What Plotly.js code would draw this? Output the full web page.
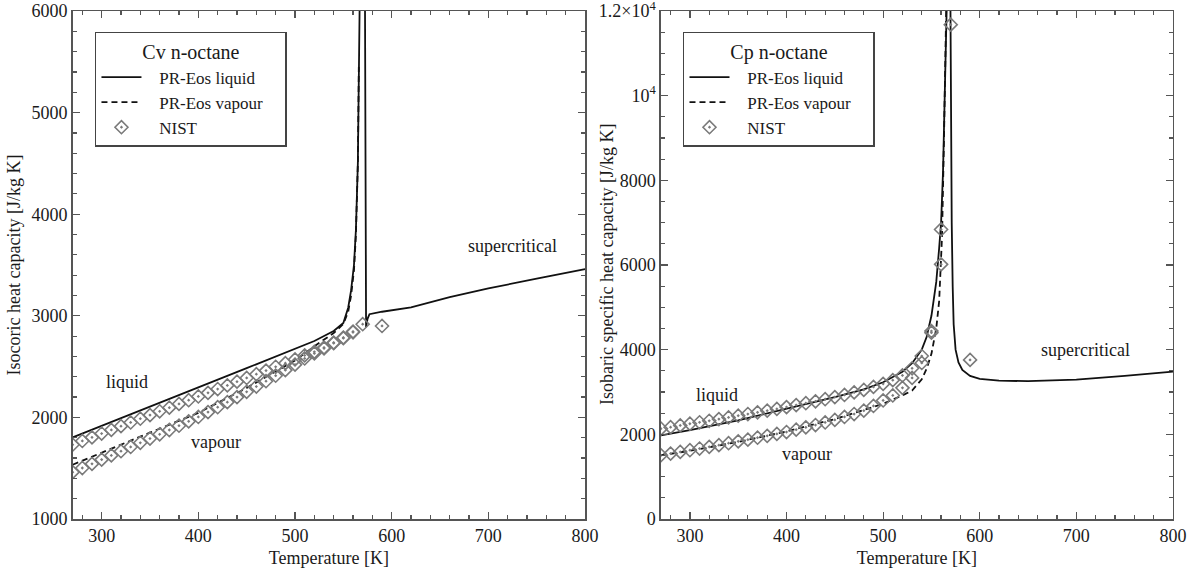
<!DOCTYPE html>
<html>
<head>
<meta charset="utf-8">
<script src="https://cdn.plot.ly/plotly-3.0.1.min.js"></script>
<style>html,body{margin:0;padding:0;background:#fff;}#chart{width:1193px;height:578px;}</style>
</head>
<body>
<div id="chart"></div>
<script>
// ---------- Left panel: Cv ----------
const T_cv_liq = [270,300,350,400,450,500,520,540,550,555,558,561,563,565,566,567,567.5];
const cv_liq   = [1803,1915,2105,2295,2485,2675,2752,2850,2930,3080,3250,3500,3850,4500,5100,6000,6600];

const T_cv_vap = [270,300,350,400,450,500,520,540,550,555,558,561,563,565,566];
const cv_vap   = [1534,1655,1850,2045,2290,2560,2700,2830,2920,3040,3200,3450,3800,4500,5450];

const T_cv_sc = [572.2,572.6,573,573.5,575,577,590,620,660,700,750,800];
const cv_sc   = [6600,4500,3300,2890,2970,3016,3040,3082,3184,3270,3365,3460];

const T_nist_cv_liq = [270,280,290,300,310,320,330,340,350,360,370,380,390,400,410,420,430,440,450,460,470,480,490,500,510,520,530,540,550,560,570,590];
const nist_cv_liq   = [1731,1768,1804,1841,1877,1914,1950,1987,2023,2060,2096,2133,2169,2206,2242,2279,2315,2352,2388,2425,2461,2498,2534,2571,2610,2645,2687,2736,2786,2845,2917,2900];

const T_nist_cv_vap = [270,280,290,300,310,320,330,340,350,360,370,380,390,400,410,420,430,440,450,460,470,480,490,500,510,520,530,540,550,560];
const nist_cv_vap   = [1461,1502,1543,1585,1626,1667,1709,1750,1792,1834,1876,1918,1961,2004,2052,2100,2150,2200,2252,2304,2356,2410,2465,2520,2580,2630,2680,2730,2780,2838];

// ---------- Right panel: Cp ----------
const T_cp_liq = [270,300,350,400,450,480,500,520,530,540,545,550,555,558,560,562,564,565.5,566.5];
const cp_liq   = [1976,2100,2330,2600,2880,3060,3230,3480,3680,4000,4300,4800,5600,6400,7000,8200,10000,11800,12800];

const T_cp_vap = [270,300,350,400,450,500,520,530,540,545,550,555,558,561,563,565,566];
const cp_vap   = [1506,1610,1820,2070,2360,2722,2920,3035,3300,3550,3900,4500,5150,6700,9000,11800,13000];

const T_cp_sc = [569.5,570,571,572,573,575,578,582,590,600,620,650,700,750,800];
const cp_sc   = [12800,10000,7000,5500,4600,4000,3700,3520,3380,3310,3270,3255,3290,3380,3480];

const T_nist_cp_liq = [270,280,290,300,310,320,330,340,350,360,370,380,390,400,410,420,430,440,450,460,470,480,490,500,510,520,530,540,550,560,570,590];
const nist_cp_liq   = [2134,2170,2210,2250,2285,2320,2360,2400,2440,2480,2520,2560,2600,2643,2690,2735,2780,2830,2880,2930,2990,3050,3120,3193,3280,3390,3560,3850,4440,6839,11678,3758];

const T_nist_cp_vap = [270,280,290,300,310,320,330,340,350,360,370,380,390,400,410,420,430,440,450,460,470,480,490,500,510,520,530,540,550,560];
const nist_cp_vap   = [1506,1545,1585,1625,1665,1705,1745,1790,1835,1875,1920,1965,2010,2055,2110,2165,2220,2280,2340,2410,2480,2560,2670,2800,2918,3098,3333,3686,4400,6016];

// tick label aliases for the right y axis
const cpTickAlias = {'10000':'10<sup>4</sup>', '12000':'1.2×10<sup>4</sup>'};

const FONT = 'Liberation Serif, Times New Roman, serif';
const TXT = '#1a1a1a';
const AX = '#555';

const solid = {color:'#111', width:1.8};
const dashed = {color:'#111', width:1.8, dash:'6px,4px'};
const nistMarker = {symbol:'diamond-open-dot', size:10, color:'#7a7a7a', line:{width:1.6, color:'#7a7a7a'}};
const PRE = '\u00a0\u00a0\u00a0';
const POST = '\u00a0\u00a0\u00a0\u00a0';

const traces = [
  {x:T_cv_liq, y:cv_liq, xaxis:'x', yaxis:'y', mode:'lines', line:solid, name:PRE+'PR-Eos liquid', legend:'legend'},
  {x:T_cv_vap, y:cv_vap, xaxis:'x', yaxis:'y', mode:'lines', line:dashed, name:PRE+'PR-Eos vapour'+POST, legend:'legend'},
  {x:T_cv_sc, y:cv_sc, xaxis:'x', yaxis:'y', mode:'lines', line:solid, showlegend:false, legend:'legend'},
  {x:T_nist_cv_liq, y:nist_cv_liq, xaxis:'x', yaxis:'y', mode:'markers', marker:nistMarker, name:PRE+'NIST', legend:'legend'},
  {x:T_nist_cv_vap, y:nist_cv_vap, xaxis:'x', yaxis:'y', mode:'markers', marker:nistMarker, showlegend:false, legend:'legend'},

  {x:T_cp_liq, y:cp_liq, xaxis:'x2', yaxis:'y2', mode:'lines', line:solid, name:PRE+'PR-Eos liquid', legend:'legend2'},
  {x:T_cp_vap, y:cp_vap, xaxis:'x2', yaxis:'y2', mode:'lines', line:dashed, name:PRE+'PR-Eos vapour'+POST, legend:'legend2'},
  {x:T_cp_sc, y:cp_sc, xaxis:'x2', yaxis:'y2', mode:'lines', line:solid, showlegend:false, legend:'legend2'},
  {x:T_nist_cp_liq, y:nist_cp_liq, xaxis:'x2', yaxis:'y2', mode:'markers', marker:nistMarker, name:PRE+'NIST', legend:'legend2'},
  {x:T_nist_cp_vap, y:nist_cp_vap, xaxis:'x2', yaxis:'y2', mode:'markers', marker:nistMarker, showlegend:false, legend:'legend2'}
];

function xAxis(domain, anchor){
  return {domain:domain, anchor:anchor, range:[270,800], dtick:100, tick0:0,
    ticks:'inside', ticklen:7, tickwidth:1.2, tickcolor:AX,
    minor:{ticks:'inside', ticklen:4, dtick:20, tick0:0, tickcolor:AX, tickwidth:1.2},
    showline:true, linecolor:AX, linewidth:1.5, mirror:'ticks',
    showgrid:false, zeroline:false,
    tickfont:{family:FONT, size:18, color:TXT},
    title:{text:'Temperature [K]', font:{family:FONT, size:18, color:TXT}, standoff:6}};
}
function yAxis(range, dtick, minorD, title, anchor){
  return {domain:[0,1], anchor:anchor, range:range, dtick:dtick, tick0:0, tickformat:'d',
    ticks:'inside', ticklen:7, tickwidth:1.2, tickcolor:AX,
    minor:{ticks:'inside', ticklen:4, dtick:minorD, tick0:0, tickcolor:AX, tickwidth:1.2},
    showline:true, linecolor:AX, linewidth:1.5, mirror:'ticks',
    showgrid:false, zeroline:false, ticklabeloverflow:'allow',
    tickfont:{family:FONT, size:18, color:TXT},
    title:{text:title, font:{family:FONT, size:18, color:TXT}, standoff:6}};
}

const y2 = yAxis([0,12000], 2000, 500, '', 'x2');
y2.labelalias = cpTickAlias;
delete y2.title;
const y1 = yAxis([1000,6000], 1000, 200, 'Isocoric heat capacity [J/kg K]', 'x');

function legendCfg(x, title){
  return {x:x, y:0.9587, xanchor:'left', yanchor:'top', bgcolor:'#fff',
    bordercolor:'#444', borderwidth:1.5, itemwidth:40, tracegroupgap:0,
    font:{family:FONT, size:17, color:TXT},
    title:{text:title, side:'top center', font:{family:FONT, size:20, color:TXT}}};
}

function ann(x, y, text, xref, yref){
  return {x:x, y:y, xref:xref, yref:yref, text:text, showarrow:false,
    font:{family:FONT, size:18, color:TXT}};
}

const y2TitleAnn = {x:607/1193, y:0.5, xref:'paper', yref:'paper', xanchor:'center', yanchor:'middle',
  text:'Isobaric specific heat capacity [J/kg K]', textangle:-90, showarrow:false,
  font:{family:FONT, size:18, color:TXT}};

const layout = {
  width:1193, height:578,
  margin:{l:0, r:0, t:11, b:59},
  paper_bgcolor:'#fff', plot_bgcolor:'#fff',
  showlegend:true,
  xaxis: xAxis([0.0609,0.4904], 'y'),
  yaxis: y1,
  xaxis2: xAxis([0.554,0.9832], 'y2'),
  yaxis2: y2,
  legend: legendCfg(0.0796, 'Cv n-octane'),
  legend2: legendCfg(0.5725, 'Cp n-octane'),
  annotations:[
    ann(326, 2350, 'liquid', 'x', 'y'),
    ann(418, 1760, 'vapour', 'x', 'y'),
    ann(725, 3690, 'supercritical', 'x', 'y'),
    ann(328, 2920, 'liquid', 'x2', 'y2'),
    ann(421, 1540, 'vapour', 'x2', 'y2'),
    ann(709, 4000, 'supercritical', 'x2', 'y2'),
    y2TitleAnn
  ]
};

Plotly.newPlot('chart', traces, layout, {staticPlot:true, displayModeBar:false});
</script>
</body>
</html>
